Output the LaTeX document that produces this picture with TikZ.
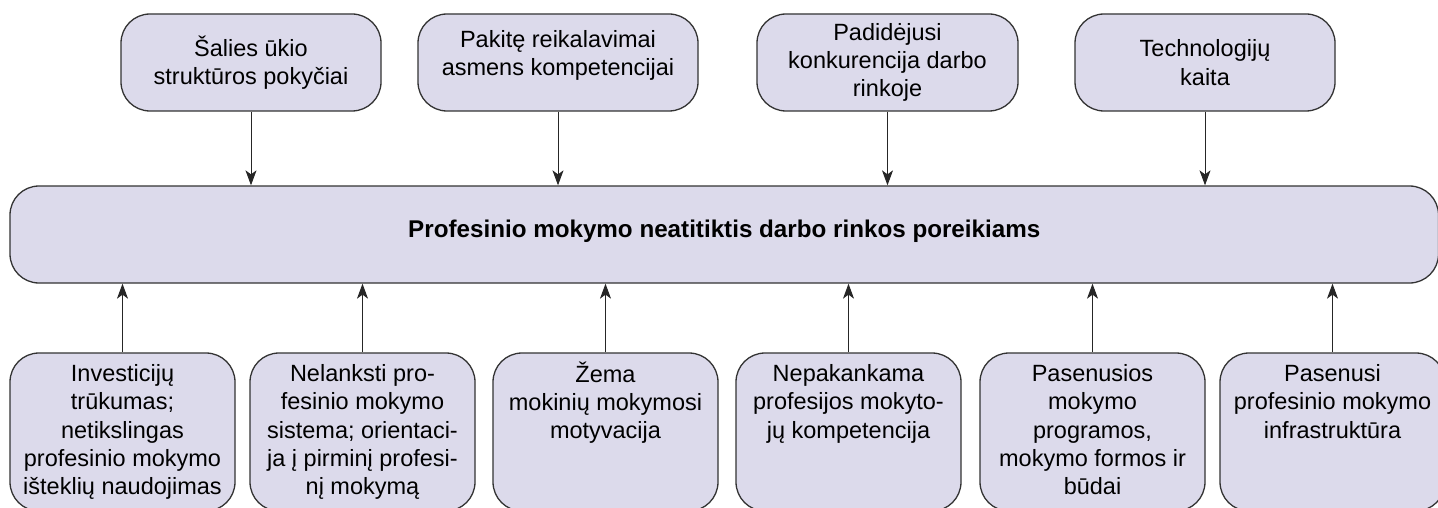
\documentclass[tikz,border=0pt]{standalone}
\usepackage{fontspec}
\setmainfont{Liberation Sans}
\usetikzlibrary{arrows.meta}
\definecolor{boxfill}{HTML}{DCDAEB}
\definecolor{boxline}{HTML}{333333}
\tikzset{
  rbox/.style={draw=boxline, line width=1.3pt, fill=boxfill, rounded corners=29pt, inner sep=0pt},
  topbox/.style={rbox, minimum height=97pt, align=center, font=\fontsize{23.5}{28.3}\selectfont},
  botbox/.style={rbox, minimum width=225pt, minimum height=158pt},
  bottext/.style={inner sep=0pt, align=center, anchor=north, font=\fontsize{23.5}{28.3}\selectfont},
  arr/.style={draw=black!85, line width=1pt, -{Stealth[length=15pt,width=11pt,inset=4pt]}}
}
\begin{document}
\begin{tikzpicture}[x=1pt,y=-1pt]
\useasboundingbox (0,0) rectangle (1438,508);
\clip (0,0) rectangle (1438,508);
% top boxes
\node[topbox, minimum width=260pt] (t1) at (251,62.5) {Šalies ūkio\\struktūros pokyčiai};
\node[topbox, minimum width=280pt] (t2) at (558,62.5) {Pakitę reikalavimai\\asmens kompetencijai\\[-9.3pt]\mbox{}};
\node[topbox, minimum width=261pt] (t3) at (887.5,62.5) {Padidėjusi\\konkurencija darbo\\rinkoje};
\node[topbox, minimum width=260pt] (t4) at (1205,62.5) {Technologijų\\kaita};
% main box
\node[rbox, minimum width=1428.5pt, minimum height=97pt, font=\fontsize{24.2}{28.3}\selectfont\bfseries] (m) at (724.25,234.5) {\raisebox{12pt}{Profesinio mokymo neatitiktis darbo rinkos poreikiams}};
% bottom boxes
\node[botbox] (b1) at (122.5,432) {};
\node[botbox] (b2) at (362.5,432) {};
\node[botbox] (b3) at (605.5,432) {};
\node[botbox] (b4) at (848.5,432) {};
\node[botbox] (b5) at (1092.5,432) {};
\node[botbox] (b6) at (1332.5,432) {};
\node[bottext] (bt1) at ([yshift=-9pt]b1.north) {\rule{0pt}{20pt}Investicijų\\trūkumas;\\netikslingas\\profesinio mokymo\\išteklių naudojimas};
\node[bottext] (bt2) at ([yshift=-9pt]b2.north) {\rule{0pt}{20pt}Nelanksti pro-\\fesinio mokymo\\sistema; orientaci-\\ja į pirminį profesi-\\nį mokymą};
\node[bottext] (bt3) at ([yshift=-9pt]b3.north) {\rule{0pt}{20pt}Žema\\mokinių mokymosi\\motyvacija};
\node[bottext] (bt4) at ([yshift=-9pt]b4.north) {\rule{0pt}{20pt}Nepakankama\\profesijos mokyto-\\jų kompetencija};
\node[bottext] (bt5) at ([yshift=-9pt]b5.north) {\rule{0pt}{20pt}Pasenusios\\mokymo\\programos,\\mokymo formos ir\\būdai};
\node[bottext] (bt6) at ([yshift=-9pt]b6.north) {\rule{0pt}{20pt}Pasenusi\\profesinio mokymo\\infrastruktūra};
% arrows
\foreach \n in {t1,t2,t3,t4} \draw[arr] (\n.south) -- (\n.south |- m.north);
\foreach \n in {b1,b2,b3,b4,b5,b6} \draw[arr] (\n.north) -- (\n.north |- m.south);
\end{tikzpicture}
\end{document}
